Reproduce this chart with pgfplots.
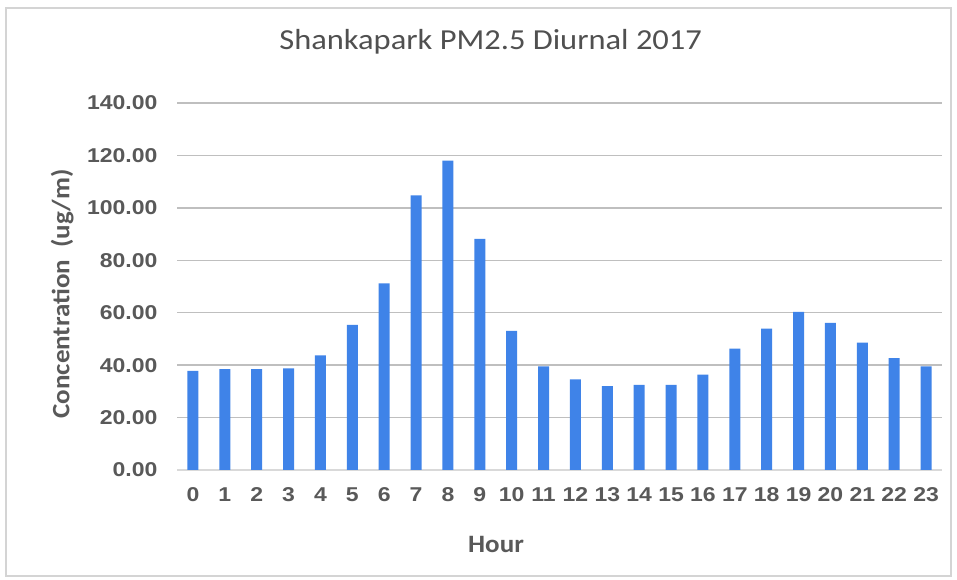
\documentclass[border=0pt]{standalone}
\usepackage{fontspec}
\usepackage{pgfplots}
\pgfplotsset{compat=1.18}
\setmainfont{Carlito}
\newfontfamily\tickfont[FakeStretch=1.15]{Liberation Sans}
\newfontfamily\titlefont[FakeStretch=1.12]{Carlito}
\newfontfamily\labelfont[FakeStretch=1.08]{Carlito}
\definecolor{txt}{HTML}{595959}
\definecolor{ttl}{HTML}{505050}
\definecolor{bar}{HTML}{3F83E8}
\definecolor{grid}{HTML}{D9D9D9}
\definecolor{frame}{HTML}{D4D4D4}
\begin{document}
\begin{tikzpicture}[x=1pt,y=1pt]
\path[use as bounding box] (0,0) rectangle (957,580);
\fill[white] (0,0) rectangle (957,580);
\draw[frame, line width=1.2pt] (6,4) rectangle (951,572);
\begin{axis}[
  at={(177pt,110pt)}, anchor=south west,
  scale only axis, width=765pt, height=367pt,
  xmin=-0.5, xmax=23.5, ymin=0, ymax=140,
  ytick={0,20,...,140},
  xtick={0,1,...,23},
  xticklabels={0,1,2,3,4,5,6,7,8,9,10,11,12,13,14,15,16,17,18,19,20,21,22,23},
  ymajorgrids, xmajorgrids=false, grid style={grid, line width=1.3pt},
  axis x line*=bottom, axis y line*=left,
  x axis line style={grid, line width=1.3pt, -},
  y axis line style={draw=none},
  major tick length=0pt,
  tick style={draw=none},
  yticklabel style={font=\tickfont\bfseries\fontsize{20}{20}\selectfont, text=txt, anchor=east,
    /pgf/number format/.cd, fixed, fixed zerofill, precision=2, assume math mode=true},
  yticklabel shift=16pt,
  xticklabel style={font=\tickfont\bfseries\fontsize{20}{20}\selectfont, text=txt, anchor=north},
  xticklabel shift=14pt,
  title={\titlefont\fontsize{29}{29}\selectfont Shankapark PM2.5 Diurnal 2017},
  title style={text=ttl, at={(axis description cs:0.41,1.15)}, anchor=center},
  xlabel={Hour},
  xlabel style={font=\labelfont\bfseries\fontsize{25}{25}\selectfont, text=txt, at={(axis description cs:0.417,-0.204)}, anchor=center},
  ylabel={Concentration\ \ (ug/m)},
  ylabel style={font=\labelfont\bfseries\fontsize{25}{25}\selectfont, text=txt, at={(axis description cs:-0.15,0.48)}, anchor=center, rotate=0},
  ybar, bar width=11pt,
]
\addplot[fill=bar, draw=none] coordinates {
(0,37.8) (1,38.5) (2,38.5) (3,38.8) (4,43.7) (5,55.4) (6,71.2) (7,104.8)
(8,118.0) (9,88.2) (10,53.1) (11,39.5) (12,34.6) (13,32.0) (14,32.5) (15,32.5)
(16,36.4) (17,46.3) (18,53.9) (19,60.3) (20,56.1) (21,48.6) (22,42.7) (23,39.5)
};
\end{axis}
\end{tikzpicture}
\end{document}
